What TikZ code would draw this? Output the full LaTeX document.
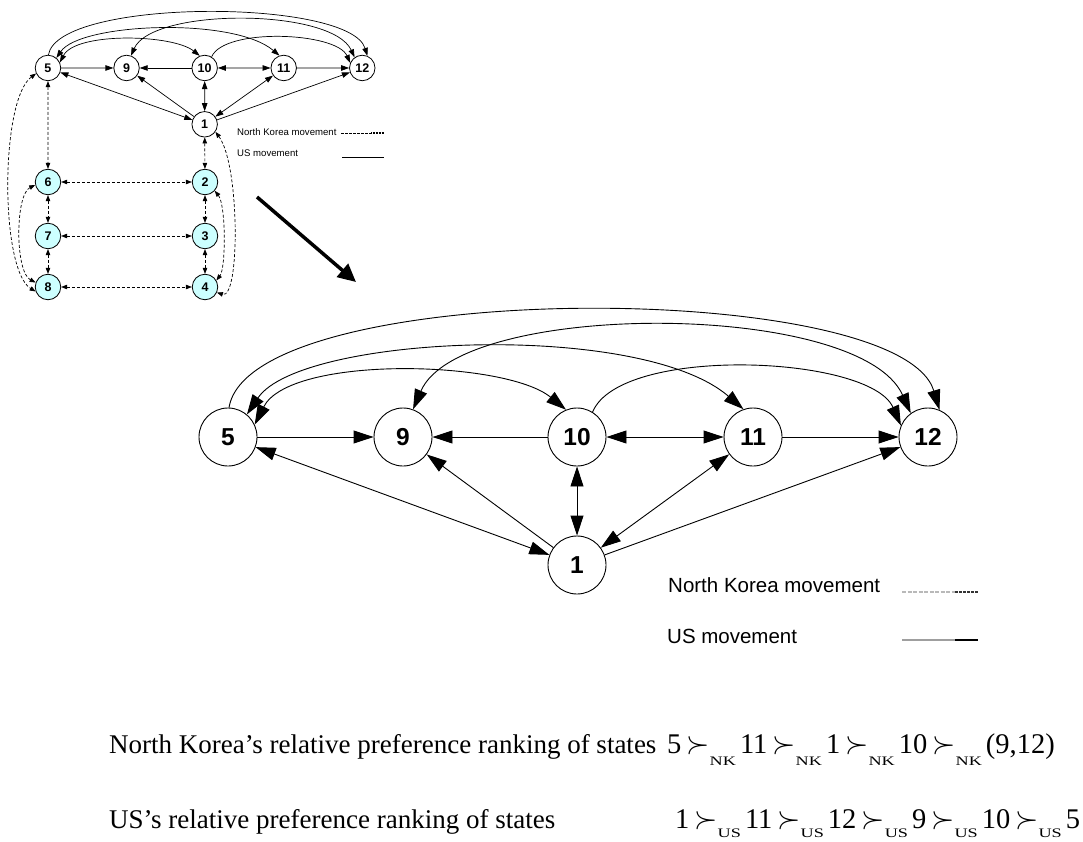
\RequirePackage{fix-cm}
\documentclass[tikz,border=0pt]{standalone}
\usepackage{fontspec}
\usepackage{graphicx}
\setmainfont{Liberation Serif}
\setsansfont{Liberation Sans}
\usetikzlibrary{arrows.meta}
\definecolor{statecyan}{HTML}{CCFFFF}

% States 5, 9, 10, 11, 12 and 1 with the US moves between them
\newcommand\topgraph[1]{%
  \node[statenode] (#1n5)  at (228,437) {5};
  \node[statenode] (#1n9)  at (403,437) {9};
  \node[statenode] (#1n10) at (577,437) {10};
  \node[statenode] (#1n11) at (753,437) {11};
  \node[statenode] (#1n12) at (928,437) {12};
  \node[statenode] (#1n1)  at (577,565) {1};
  % straight moves
  \draw[usmove,->]  (#1n5)  -- (#1n9);
  \draw[usmove,->]  (#1n10) -- (#1n9);
  \draw[usmove,<->] (#1n10) -- (#1n11);
  \draw[usmove,->]  (#1n11) -- (#1n12);
  \draw[usmove,<->] (#1n1)  -- (#1n5);
  \draw[usmove,->]  (#1n1)  -- (#1n9);
  \draw[usmove,<->] (#1n1)  -- (#1n10);
  \draw[usmove,<->] (#1n1)  -- (#1n11);
  \draw[usmove,->]  (#1n1)  -- (#1n12);
  % arcs over the top
  \draw[usmove,->]  (#1n5.88)  .. controls (250,278) and (900,278) .. (#1n12.67);
  \draw[usmove,<->] (#1n9.70)  .. controls (460,300) and (860,300) .. (#1n12.126);
  \draw[usmove,<->] (#1n5.50)  .. controls (300,335) and (640,320) .. (#1n11.109);
  \draw[usmove,<->] (#1n5.25)  .. controls (290,355) and (505,360) .. (#1n10.112);
  \draw[usmove,->]  (#1n10.58) .. controls (620,345) and (870,355) .. (#1n12.157);
}

\tikzset{
  bigstate/.style={circle, draw, line width=0.9pt, minimum size=58pt, inner sep=0pt,
    fill=white, font=\sffamily\bfseries\fontsize{24.5}{24.5}\selectfont},
  smallstate/.style={circle, draw, line width=0.8pt, minimum size=25.5pt, inner sep=0pt,
    fill=white, font=\sffamily\bfseries\fontsize{12.5}{12.5}\selectfont},
  nkmove/.style={line width=0.7pt, dash pattern=on 3pt off 2pt,
    {Triangle[length=6pt,width=4.5pt]}-{Triangle[length=6pt,width=4.5pt]}},
  legtext/.style={anchor=base west, inner sep=0pt, font=\sffamily},
  prefline/.style={anchor=base west, inner sep=0pt, font=\fontsize{27}{32}\selectfont},
  rankline/.style={anchor=base west, inner sep=0pt, font=\fontsize{28.5}{32}\selectfont},
}

% preference relation with a small subscript naming the player
\newcommand\prefsym[2]{\hspace{5pt}\scalebox{1.05}[1.1]{$\succ$}%
  \raisebox{-#2}{\scalebox{1.4}[1]{\fontsize{13}{13}\selectfont #1}}\hspace{4pt}}

\begin{document}
\begin{tikzpicture}[x=1pt,y=-1pt]
\useasboundingbox (0,0) rectangle (1083,842);

% ---- large graph ----
\begin{scope}[statenode/.style=bigstate, usmove/.style={line width=0.9pt},
  >={Triangle[length=20pt,width=13pt]}]
  \topgraph{b}
\end{scope}

% ---- small overview graph ----
\begin{scope}[shift={(-54.4,-124.3)}, xscale=0.449, yscale=0.44,
  statenode/.style=smallstate, usmove/.style={line width=0.7pt},
  >={Triangle[length=8pt,width=5.5pt]}]
  \topgraph{s}
\end{scope}

% North Korea states of the overview
\node[smallstate, fill=statecyan] (s6) at (48,182) {6};
\node[smallstate, fill=statecyan] (s7) at (48,236) {7};
\node[smallstate, fill=statecyan] (s8) at (48,287) {8};
\node[smallstate, fill=statecyan] (s2) at (205,182) {2};
\node[smallstate, fill=statecyan] (s3) at (205,236) {3};
\node[smallstate, fill=statecyan] (s4) at (205,287) {4};

\draw[nkmove] (sn5) -- (s6);
\draw[nkmove] (sn1) -- (s2);
\draw[nkmove] (s6) -- (s2);
\draw[nkmove] (s7) -- (s3);
\draw[nkmove] (s8) -- (s4);
\draw[nkmove] (s6) -- (s7);
\draw[nkmove] (s7) -- (s8);
\draw[nkmove] (s2) -- (s3);
\draw[nkmove] (s3) -- (s4);
\draw[nkmove] (sn5.205) .. controls (0,100) and (0,270) .. (s8.200);
\draw[nkmove] (s6.193) .. controls (15,195) and (15,272) .. (s8.160);
\draw[nkmove] (sn1.325) .. controls (240,165) and (240,300) .. (s4.335);
\draw[nkmove] (s2.318) .. controls (226,205) and (226,268) .. (s4.30);

% small legend
\node[legtext, font=\sffamily\fontsize{9.6}{10}\selectfont] (snk) at (237,136) {North Korea movement};
\node[legtext, font=\sffamily\fontsize{9.6}{10}\selectfont] (sus) at (237,157) {US movement};
\coordinate (snka) at (341,133); \coordinate (snkb) at (371,133); \coordinate (snkc) at (384,133);
\draw[line width=0.7pt, dash pattern=on 2.5pt off 1.5pt] (snka) -- (snkb);
\draw[line width=1.1pt, dash pattern=on 1pt off 0.5pt] (snkb) -- (snkc);
\coordinate (susa) at (342,157); \coordinate (susb) at (384,157);
\draw[line width=0.9pt] (susa) -- (susb);

% zoom arrow
\coordinate (zs) at (257,197); \coordinate (ze) at (356,282);
\draw[line width=3.5pt, -{Triangle[length=18pt,width=17pt]}] (zs) -- (ze);

% large legend
\node[legtext, font=\sffamily\fontsize{20.5}{24}\selectfont] (bnk) at (668,592) {North Korea movement};
\node[legtext, font=\sffamily\fontsize{20.5}{24}\selectfont] (bus) at (667,643) {US movement};
\coordinate (bnka) at (902,592); \coordinate (bnkb) at (955,592); \coordinate (bnkc) at (978,592);
\draw[line width=1.3pt, gray!55, dash pattern=on 4pt off 1.5pt] (bnka) -- (bnkb);
\draw[line width=1.5pt, black!80, dash pattern=on 3pt off 1pt] (bnkb) -- (bnkc);
\coordinate (busa) at (902,640); \coordinate (busb) at (955,640); \coordinate (busc) at (978,640);
\draw[line width=1.5pt, gray!75] (busa) -- (busb);
\draw[line width=1.8pt, black] (busb) -- (busc);

% preference rankings
\node[prefline] (nktext) at (109,753) {North Korea’s relative preference ranking of states};
\node[prefline] (ustext) at (109,828) {US’s relative preference ranking of states};
\node[rankline] (nkrank) at (667,753)
  {5\prefsym{NK}{12pt}11\prefsym{NK}{12pt}1\prefsym{NK}{12pt}10\prefsym{NK}{12pt}(9,12)};
\node[rankline] (usrank) at (675,828)
  {1\prefsym{US}{9pt}11\prefsym{US}{9pt}12\prefsym{US}{9pt}9\prefsym{US}{9pt}10\prefsym{US}{9pt}5};
\end{tikzpicture}
\end{document}
